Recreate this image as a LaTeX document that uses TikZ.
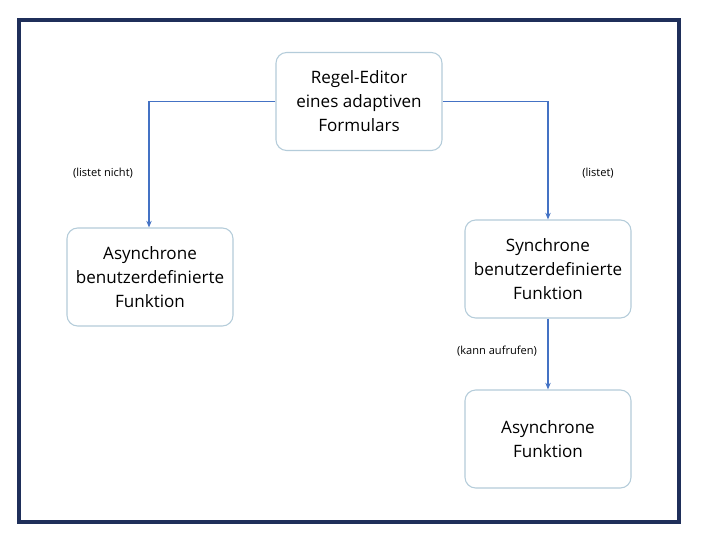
\documentclass[tikz,border=0pt]{standalone}
\usepackage{fontspec}
\setmainfont{Open Sans}
\usetikzlibrary{arrows.meta}
\definecolor{navy}{HTML}{1F2F5A}
\definecolor{boxc}{HTML}{B4CCDA}
\definecolor{arr}{HTML}{4472C4}
\begin{document}
\begin{tikzpicture}[x=0.75pt,y=-0.75pt,
 box/.style={draw=boxc,line width=0.8pt,rounded corners=8pt,minimum width=166*0.75pt,minimum height=98*0.75pt,align=center,font=\fontsize{12.8}{18}\selectfont,inner sep=0pt},
 con/.style={draw=arr,line width=0.8pt,-{Stealth[length=5pt,width=4pt]}},
 lab/.style={font=\fontsize{8.3}{10}\selectfont}]
\fill[white] (0,0) rectangle (706,542);
\draw[navy,line width=2.4pt] (19,20) rectangle (679,522);
\node[box] (top) at (359,101.5) {Regel-Editor\\eines adaptiven\\Formulars};
\node[box] (left) at (150,277) {Asynchrone\\benutzerdefinierte\\Funktion};
\node[box] (r1) at (548,269) {Synchrone\\benutzerdefinierte\\Funktion};
\node[box] (r2) at (548,439) {Asynchrone\\Funktion};
\draw[con] (top.west) -| (left.north -| 149,0);
\draw[con] (top.east) -| (r1.north);
\draw[con] (r1.south) -- (r2.north);
\node[lab] (l1) at (103,173) {(listet nicht)};
\node[lab] (l2) at (598,173) {(listet)};
\node[lab] (l3) at (497,351) {(kann aufrufen)};
\end{tikzpicture}
\end{document}
